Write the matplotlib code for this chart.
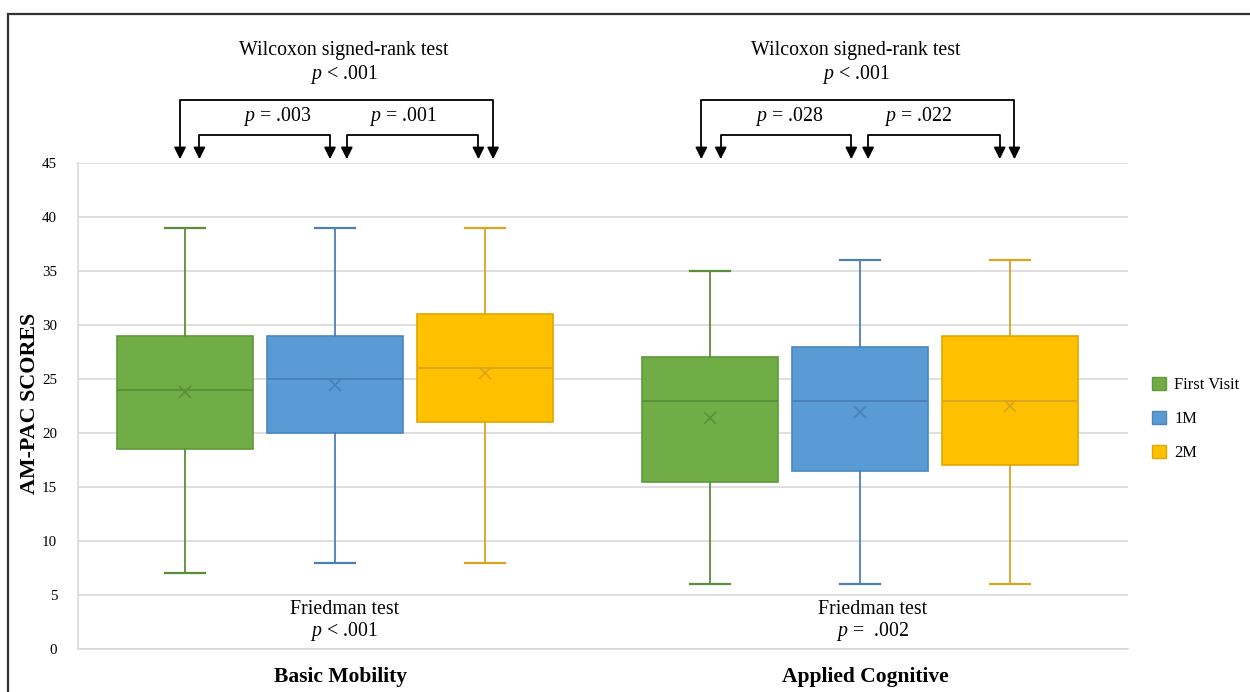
import matplotlib
matplotlib.use("Agg")
import matplotlib.pyplot as plt
from matplotlib.patches import Rectangle, Patch
import numpy as np

plt.rcParams['font.family'] = ['Liberation Serif', 'DejaVu Serif']
plt.rcParams['mathtext.fontset'] = 'custom'
plt.rcParams['mathtext.rm'] = 'Liberation Serif'
plt.rcParams['mathtext.it'] = 'Liberation Serif:italic'

# ---- data ----
categories = ["Basic Mobility", "Applied Cognitive"]
series = ["First Visit", "1M", "2M"]
# per category, per series
whislo = [[7, 8, 8], [6, 6, 6]]
q1 = [[18.5, 20, 21], [15.5, 16.5, 17]]
med = [[24, 25, 26], [23, 23, 23]]
q3 = [[29, 29, 31], [27, 28, 29]]
whishi = [[39, 39, 39], [35, 36, 36]]
means = [[23.8, 24.4, 25.6], [21.35, 21.9, 22.5]]
wilcoxon_overall = ["$p$ < .001", "$p$ < .001"]
wilcoxon_pairs = [["$p$ = .003", "$p$ = .001"], ["$p$ = .028", "$p$ = .022"]]
friedman = ["$p$ < .001", "$p$ =  .002"]
yticks = [0, 5, 10, 15, 20, 25, 30, 35, 40, 45]

# ---- layout (annotation placement, not data) ----
title_x = [0.007, 0.982]
pair_label_x = [[-0.121, 0.119], [0.854, 1.100]]
friedman_x = [0.007, 1.014]
bracket_shift = [0.0, -0.007]

fills = ["#70AD47", "#5B9BD5", "#FFC000"]
edges = ["#5E9A3A", "#4A87C0", "#E0A800"]
lines = ["#5A8F3A", "#4A80B4", "#D9A520"]

fig = plt.figure(figsize=(12.5, 6.92), dpi=100)
ax = fig.add_axes([78 / 1250, 1 - 649 / 692, 1050 / 1250, 486 / 692])

offset = 0.2857
gshift = -0.01
width = 0.259
for g in range(len(categories)):
    for s in range(len(series)):
        pos = g + gshift + (s - 1) * offset
        st = dict(whislo=whislo[g][s], q1=q1[g][s], med=med[g][s], q3=q3[g][s],
                  whishi=whishi[g][s], mean=means[g][s], fliers=[])
        ax.bxp([st], positions=[pos], widths=width, patch_artist=True,
               showmeans=True, showfliers=False,
               boxprops=dict(facecolor=fills[s], edgecolor=edges[s], linewidth=1.2),
               medianprops=dict(color=lines[s], linewidth=1.3),
               whiskerprops=dict(color=lines[s], linewidth=1.3),
               capprops=dict(color=lines[s], linewidth=1.6),
               meanprops=dict(marker='x', markeredgecolor=lines[s], markersize=9,
                              markeredgewidth=1.2),
               capwidths=0.076, zorder=3)

ax.set_ylim(0, 45)
ax.set_xlim(-0.5, 1.5)
ax.set_yticks(yticks)
ax.set_yticklabels([str(v) for v in yticks], fontsize=10.8)
ax.yaxis.grid(True, color="#D9D9D9", linewidth=1.2, zorder=0)
ax.set_axisbelow(True)
ax.tick_params(axis='y', length=0, pad=15)
ax.tick_params(axis='x', length=0, pad=13)
ax.set_xticks([g + 0.0 for g in range(len(categories))])
ax.set_xticklabels(categories, fontsize=15.5, fontweight='bold')
for sp in ['top', 'right']:
    ax.spines[sp].set_visible(False)
for sp in ['left', 'bottom']:
    ax.spines[sp].set_color("#D9D9D9")
    ax.spines[sp].set_linewidth(1.2)
ax.set_ylabel("AM-PAC SCORES", fontsize=15.8, fontweight='bold')
ax.yaxis.set_label_coords((40 - 78) / 1050, (649 - 403) / 486)

# annotations
fs = 14.3
ac = dict(color='black', lw=1.3, clip_on=False, solid_capstyle='butt')
y_outer, y_inner, y_tip = 50.8, 47.6, 45.35


def arrow_bracket(x1, x2, yh):
    ax.plot([x1, x1, x2, x2], [y_tip + 0.9, yh, yh, y_tip + 0.9], **ac)
    for x in (x1, x2):
        ax.annotate("", xy=(x, y_tip), xytext=(x, y_tip + 1.0),
                    arrowprops=dict(arrowstyle='-|>,head_width=0.35,head_length=0.7',
                                    color='black', lw=1.3, shrinkA=0, shrinkB=0),
                    annotation_clip=False)


for g in range(len(categories)):
    p0 = g + gshift - offset
    p1 = g + gshift
    p2 = g + gshift + offset
    b = bracket_shift[g]
    arrow_bracket(p0 - 0.01 + b, p2 + 0.015 + b, y_outer)
    arrow_bracket(p0 + 0.027 + b, p1 - 0.01 + b, y_inner)
    arrow_bracket(p1 + 0.022 + b, p2 - 0.013 + b, y_inner)
    ax.text(title_x[g], 55.4, "Wilcoxon signed-rank test", ha='center', va='center',
            fontsize=fs, clip_on=False)
    ax.text(title_x[g], 53.2, wilcoxon_overall[g], ha='center', va='center',
            fontsize=fs, clip_on=False)
    for k in range(2):
        ax.text(pair_label_x[g][k], 49.35, wilcoxon_pairs[g][k], ha='center',
                va='center', fontsize=fs, clip_on=False)
    ax.text(friedman_x[g], 3.7, "Friedman test", ha='center', va='center', fontsize=fs)
    ax.text(friedman_x[g], 1.6, friedman[g], ha='center', va='center', fontsize=fs)

handles = [Patch(facecolor=fills[s], edgecolor=edges[s], linewidth=1.0) for s in range(3)]
fig.legend(handles, series, loc='center left', bbox_to_anchor=(1137 / 1250, 1 - 419 / 692),
           frameon=False, fontsize=11.9, handlelength=0.85, handleheight=0.85,
           handletextpad=0.5, labelspacing=1.05)

# outer frame
fig.patches.append(Rectangle((8 / 1250, -0.1), 1.2, 1 - 14 / 692 + 0.1,
                             transform=fig.transFigure, fill=False,
                             edgecolor="#333333", linewidth=1.6))

fig.savefig("out.png", dpi=100)
